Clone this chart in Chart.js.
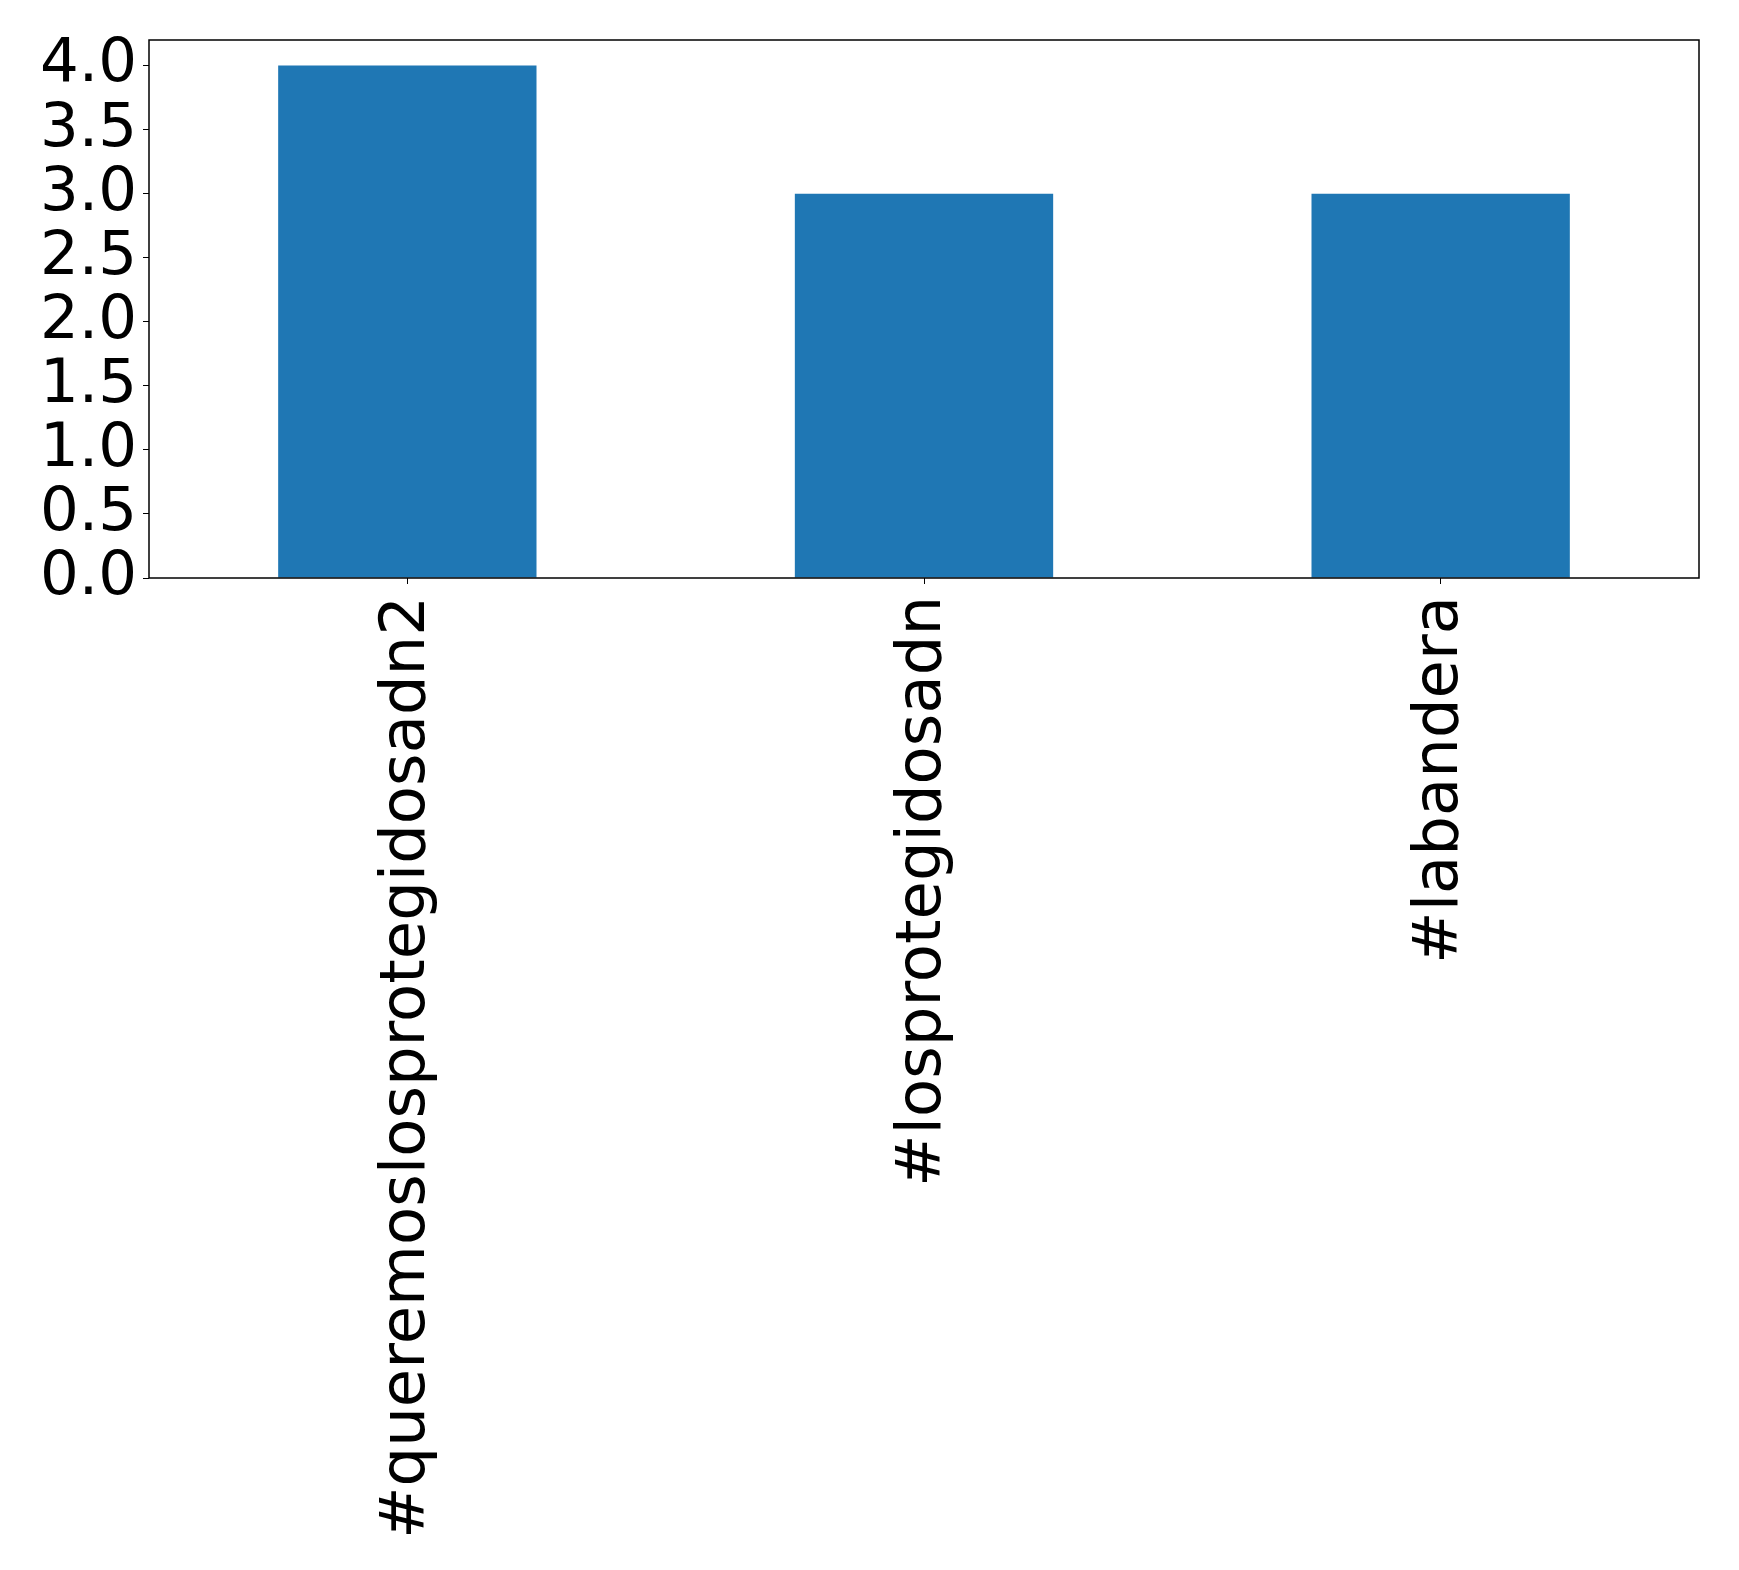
<!DOCTYPE html>
<html>
<head>
<meta charset="utf-8">
<script src="https://cdn.jsdelivr.net/npm/chart.js@4/dist/chart.umd.min.js"></script>
<style>
	body { margin: 0; background: #fff; }
	canvas { display: block; }
</style>
</head>
<body>
<canvas id="myChart" width="1739" height="1570"></canvas>
<script>
var hashtags = ["#queremoslosprotegidosadn2", "#losprotegidosadn", "#labandera"];
var counts = [4, 3, 3];
var yTicks = [0, 0.5, 1, 1.5, 2, 2.5, 3, 3.5, 4];
var barColor = "#1f77b4";

// box around the plot like matplotlib's spines
var frame = {
	id: "frame",
	afterDraw: function (chart) {
		var a = chart.chartArea;
		var ctx = chart.ctx;
		ctx.save();
		ctx.strokeStyle = "#000";
		ctx.lineWidth = 1.5;
		ctx.strokeRect(a.left, a.top, a.right - a.left, a.bottom - a.top);
		ctx.restore();
	},
};

new Chart("myChart", {
	type: "bar",
	data: {
		labels: hashtags,
		datasets: [
			{
				backgroundColor: barColor,
				data: counts,
				barPercentage: 0.5,
				categoryPercentage: 1,
			},
		],
	},
	options: {
		responsive: false,
		animation: false,
		layout: { padding: { top: 40, right: 40, left: 0, bottom: 0 } },
		plugins: {
			legend: { display: false },
			tooltip: { enabled: false },
		},
		scales: {
			x: {
				offset: true,
				grid: { display: true, offset: false, drawOnChartArea: false, tickLength: 6, color: "#000", lineWidth: 1 },
				border: { display: false },
				ticks: {
					color: "#000",
					font: { family: "DejaVu Sans", size: 62.5 },
					maxRotation: 90,
					minRotation: 90,
					padding: 12,
				},
				afterFit: function (s) {
					s.height = 992;
					s.paddingLeft = 0;
					s.paddingRight = 0;
				},
			},
			y: {
				min: 0,
				max: 4.2,
				grid: { display: true, drawOnChartArea: false, tickLength: 6, color: "#000", lineWidth: 1 },
				border: { display: false },
				ticks: {
					color: "#000",
					autoSkip: false,
					padding: 6,
					font: { family: "DejaVu Sans", size: 61 },
					callback: function (v) { return v.toFixed(1); },
				},
				afterBuildTicks: function (s) {
					s.ticks = yTicks.map(function (v) { return { value: v }; });
				},
				afterFit: function (s) {
					s.width = 149;
					s.paddingTop = 0;
					s.paddingBottom = 0;
				},
			},
		},
	},
	plugins: [frame],
});
</script>
</body>
</html>
